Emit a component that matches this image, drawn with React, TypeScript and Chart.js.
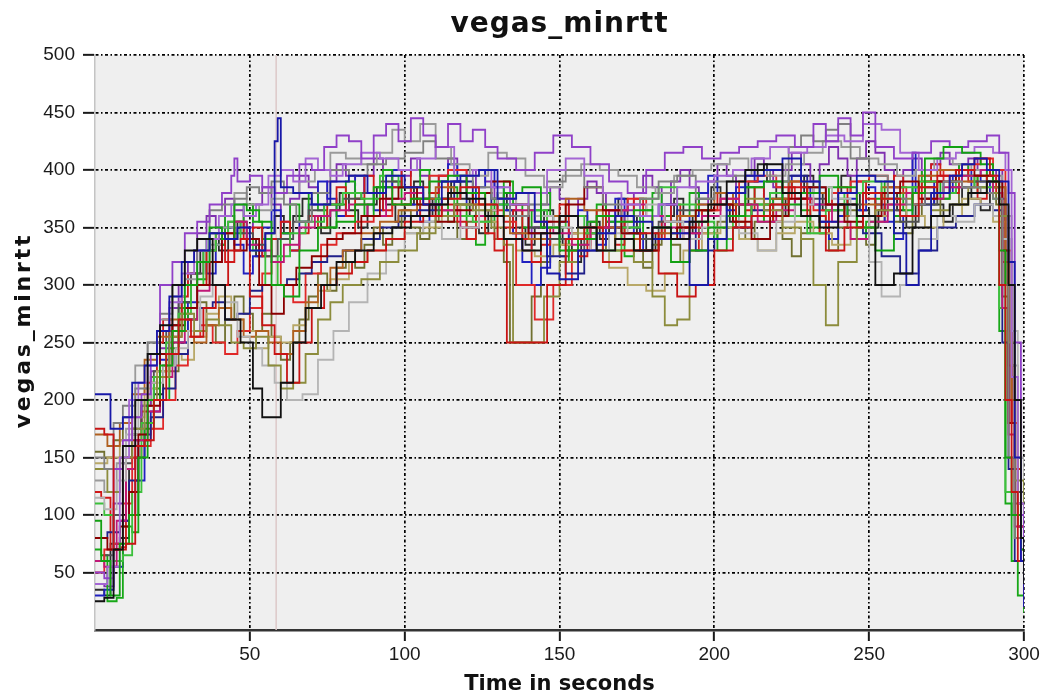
import { useEffect, useRef } from "react";
import { Chart, registerables } from "chart.js";

Chart.register(...registerables);

// Each run: [time in seconds, vegas_minrtt] sample-and-hold points.
const run01: [number, number][] = [[0,25],[3,28],[6,70],[9,160],[13,200],[17,240],[21,265],[25,300],[29,330],[33,340],[38,300],[42,270],[47,250],[51,210],[54,185],[60,215],[64,250],[68,280],[73,300],[78,320],[84,330],[90,345],[96,350],[102,360],[108,370],[114,380],[120,375],[126,360],[132,340],[138,330],[144,345],[150,360],[156,350],[162,330],[168,340],[174,330],[180,350],[186,340],[192,355],[198,370],[204,390],[210,400],[216,405],[222,380],[228,360],[234,350],[240,370],[246,360],[252,300],[258,310],[264,350],[270,360],[276,370],[282,380],[288,390],[292,370],[295,300],[297,200],[299,80],[300,40]];
const run02: [number, number][] = [[0,205],[5,175],[9,185],[12,215],[16,230],[20,260],[24,290],[28,320],[32,330],[37,345],[42,340],[46,350],[50,330],[55,345],[58,425],[59,445],[60,385],[64,380],[70,370],[76,390],[82,395],[88,380],[94,395],[100,385],[106,370],[112,390],[118,395],[124,400],[130,375],[136,380],[142,355],[146,310],[150,305],[156,330],[162,345],[168,360],[174,355],[180,340],[186,345],[192,300],[198,340],[204,380],[210,395],[216,400],[222,410],[228,390],[234,355],[240,380],[246,395],[252,390],[258,345],[262,300],[266,330],[270,380],[276,395],[280,405],[284,410],[288,400],[292,390],[295,320],[297,150],[299,60],[300,20]];
const run03: [number, number][] = [[0,175],[3,170],[6,70],[10,75],[13,160],[16,165],[19,200],[23,240],[27,270],[31,255],[35,280],[39,300],[43,330],[47,340],[50,290],[54,265],[58,240],[62,215],[66,250],[70,280],[74,300],[78,310],[83,320],[88,330],[94,340],[100,355],[106,360],[112,375],[118,385],[124,370],[130,340],[133,250],[140,250],[146,300],[152,340],[158,350],[164,320],[170,330],[176,345],[182,310],[188,290],[194,300],[200,330],[206,350],[212,360],[218,370],[224,385],[230,360],[236,330],[242,350],[248,380],[254,375],[260,360],[266,385],[272,395],[278,400],[284,410],[289,395],[292,300],[294,200],[296,120],[298,60],[300,30]];
const run04: [number, number][] = [[0,95],[2,60],[5,30],[8,75],[11,100],[14,150],[17,200],[21,230],[25,260],[29,300],[33,320],[37,350],[41,340],[45,370],[49,365],[53,355],[57,300],[61,290],[66,330],[72,350],[78,355],[84,370],[90,385],[96,370],[102,375],[108,390],[114,395],[120,380],[126,360],[132,380],[138,385],[144,350],[150,330],[156,340],[162,360],[168,355],[174,365],[180,350],[186,320],[192,330],[198,350],[204,360],[210,385],[216,390],[222,370],[228,380],[234,395],[240,385],[246,350],[252,330],[258,360],[264,380],[268,410],[274,420],[280,415],[286,405],[290,390],[292,330],[294,150],[296,100],[299,70],[300,40]];
const run05: [number, number][] = [[0,50],[3,45],[6,140],[9,165],[12,185],[15,205],[18,240],[21,300],[25,320],[29,345],[33,355],[37,370],[41,380],[44,395],[45,410],[46,390],[50,395],[54,385],[58,380],[62,395],[66,405],[70,400],[74,420],[78,430],[82,425],[86,410],[90,430],[94,440],[98,425],[102,445],[106,430],[110,420],[114,440],[118,425],[122,435],[126,420],[130,410],[136,400],[142,415],[148,430],[154,420],[160,405],[166,390],[172,380],[178,400],[184,415],[190,420],[196,410],[202,415],[208,420],[214,425],[220,430],[226,420],[232,440],[236,425],[240,445],[244,430],[248,450],[252,420],[258,410],[264,415],[270,425],[276,420],[282,425],[288,430],[292,415],[295,380],[297,250],[299,100],[300,20]];
const run06: [number, number][] = [[0,40],[4,55],[8,150],[11,200],[14,215],[17,230],[20,260],[24,285],[28,310],[32,330],[36,340],[40,360],[44,370],[48,360],[52,370],[56,395],[60,400],[64,390],[68,410],[72,400],[76,395],[80,405],[86,415],[92,410],[98,400],[104,410],[110,420],[116,395],[122,400],[128,385],[134,370],[140,380],[146,400],[152,410],[158,395],[164,380],[170,370],[176,360],[182,370],[188,385],[194,390],[200,395],[206,400],[212,410],[218,420],[224,415],[230,420],[236,430],[242,425],[248,440],[254,435],[260,415],[266,400],[272,410],[278,415],[284,420],[290,415],[294,400],[296,220],[298,110],[300,60]];
const run07: [number, number][] = [[0,150],[3,140],[6,180],[9,195],[13,210],[17,250],[21,275],[25,300],[29,320],[33,340],[37,365],[41,370],[45,375],[49,385],[53,380],[57,390],[61,370],[65,355],[70,380],[76,400],[82,395],[88,405],[94,410],[100,415],[106,425],[110,410],[116,395],[122,385],[128,375],[134,360],[140,370],[146,390],[152,400],[158,385],[164,370],[170,360],[176,375],[182,390],[188,395],[194,375],[200,390],[206,395],[212,400],[218,390],[224,420],[228,430],[232,425],[236,435],[240,440],[244,410],[250,395],[256,375],[262,370],[268,380],[274,390],[280,385],[286,380],[290,375],[293,300],[295,150],[297,80],[300,30]];
const run08: [number, number][] = [[0,140],[4,120],[8,150],[12,175],[16,200],[20,220],[24,255],[28,275],[32,260],[36,270],[40,265],[44,250],[48,245],[52,255],[56,230],[60,210],[64,215],[68,240],[72,270],[76,285],[80,300],[86,305],[92,320],[98,330],[104,345],[110,360],[116,370],[122,365],[128,350],[132,335],[135,250],[140,250],[145,290],[150,320],[156,350],[162,360],[168,330],[174,320],[180,290],[184,265],[188,270],[192,300],[198,340],[204,360],[210,375],[216,365],[222,350],[228,340],[232,300],[236,265],[240,320],[246,350],[252,365],[258,375],[264,380],[270,365],[276,370],[282,385],[288,380],[292,360],[295,250],[297,130],[300,50]];
const run09: [number, number][] = [[0,80],[4,70],[8,90],[11,120],[14,170],[17,195],[21,240],[25,265],[29,280],[33,300],[37,320],[41,345],[45,330],[49,340],[53,300],[57,275],[61,300],[65,315],[70,325],[75,340],[80,345],[86,360],[92,375],[98,385],[104,370],[110,355],[116,365],[122,380],[128,390],[134,370],[140,345],[146,355],[152,370],[158,385],[164,365],[170,345],[176,330],[182,340],[188,350],[194,365],[200,370],[206,355],[212,340],[218,360],[224,375],[230,385],[236,370],[242,355],[248,360],[254,380],[260,390],[266,375],[272,390],[278,400],[284,395],[290,390],[293,330],[295,180],[297,100],[300,60]];
const run10: [number, number][] = [[0,115],[3,105],[7,130],[10,170],[14,200],[18,215],[22,230],[26,245],[30,260],[34,290],[38,300],[42,285],[46,255],[50,245],[54,230],[58,215],[62,200],[67,205],[72,235],[77,260],[82,285],[88,310],[94,330],[100,345],[106,355],[112,340],[118,350],[124,365],[130,380],[136,370],[142,360],[148,350],[154,340],[160,330],[166,345],[172,360],[178,370],[184,355],[190,340],[196,350],[202,360],[208,345],[214,330],[220,355],[226,370],[232,385],[238,375],[244,360],[250,320],[254,290],[260,300],[266,340],[272,360],[278,355],[284,370],[290,360],[293,340],[296,260],[298,150],[300,90]];
const run11: [number, number][] = [[0,60],[3,55],[7,95],[10,140],[13,165],[17,190],[21,220],[25,250],[29,270],[33,295],[37,320],[41,345],[45,355],[49,335],[53,330],[57,320],[61,335],[66,350],[71,360],[76,365],[82,370],[88,360],[94,375],[100,380],[106,370],[112,365],[118,350],[124,360],[130,375],[136,365],[142,355],[148,345],[154,335],[160,350],[166,365],[172,370],[178,360],[184,350],[190,345],[196,360],[202,375],[208,370],[214,355],[220,365],[226,375],[232,370],[238,355],[244,340],[250,355],[256,370],[262,380],[268,375],[274,385],[280,395],[286,400],[290,380],[293,280],[295,170],[297,90],[300,45]];
const run12: [number, number][] = [[0,110],[3,100],[6,60],[9,65],[12,120],[15,180],[19,220],[23,250],[27,275],[31,300],[35,330],[39,345],[43,355],[47,340],[51,330],[55,300],[59,325],[63,345],[68,355],[74,370],[80,380],[86,375],[92,395],[98,385],[104,370],[110,375],[116,360],[122,355],[128,370],[134,380],[140,365],[146,350],[152,360],[158,345],[164,330],[170,350],[176,375],[182,385],[188,370],[194,355],[200,340],[206,360],[212,370],[218,380],[224,360],[230,345],[236,365],[242,380],[248,390],[254,375],[260,385],[266,390],[272,380],[278,395],[284,385],[290,375],[292,280],[294,120],[297,80],[300,40]];
const run13: [number, number][] = [[0,170],[4,160],[8,180],[12,205],[16,235],[20,255],[24,270],[28,260],[32,250],[36,265],[40,280],[44,270],[48,255],[52,260],[56,250],[60,240],[64,260],[68,285],[72,300],[76,315],[80,330],[86,345],[92,355],[98,365],[104,375],[110,385],[116,380],[122,370],[128,360],[134,345],[140,340],[146,360],[152,375],[158,365],[164,350],[170,340],[176,330],[182,345],[188,360],[194,370],[200,380],[206,370],[212,360],[218,375],[224,390],[230,380],[236,370],[242,360],[248,370],[254,385],[260,380],[266,395],[272,400],[278,390],[284,395],[290,385],[294,300],[296,200],[298,90],[300,50]];
const run14: [number, number][] = [[0,80],[4,85],[8,95],[11,130],[14,165],[18,185],[22,210],[26,240],[30,260],[34,280],[38,285],[42,270],[46,275],[50,295],[54,300],[58,300],[62,305],[66,310],[70,320],[75,325],[80,330],[86,340],[92,350],[98,360],[104,365],[110,375],[116,390],[122,380],[128,370],[134,360],[140,345],[146,325],[152,310],[158,330],[164,350],[170,345],[176,360],[182,370],[188,355],[194,330],[200,340],[206,350],[212,365],[218,380],[224,395],[230,385],[236,370],[242,360],[248,345],[254,325],[260,310],[266,330],[272,350],[278,360],[284,370],[290,365],[293,250],[295,140],[297,60],[300,30]];
const run15: [number, number][] = [[0,130],[3,120],[7,145],[10,175],[13,230],[17,250],[21,270],[25,290],[29,305],[33,320],[37,335],[41,350],[45,380],[49,370],[53,365],[57,375],[61,380],[66,390],[71,400],[76,415],[81,410],[86,405],[91,415],[96,435],[100,425],[105,440],[110,420],[115,405],[121,395],[127,415],[133,410],[139,395],[145,385],[151,395],[157,405],[163,400],[169,395],[175,385],[181,380],[187,395],[193,400],[199,405],[205,410],[211,400],[217,395],[223,405],[229,415],[235,425],[241,420],[247,410],[253,405],[259,395],[265,400],[271,410],[277,405],[283,400],[289,395],[293,360],[296,230],[298,100],[300,50]];
const run16: [number, number][] = [[0,50],[3,70],[6,75],[9,110],[12,150],[15,160],[18,175],[22,200],[26,230],[30,255],[34,265],[38,250],[42,240],[46,260],[50,280],[54,310],[57,320],[60,300],[64,285],[68,310],[73,335],[78,345],[84,355],[90,360],[96,370],[102,385],[108,395],[114,400],[120,380],[126,365],[132,355],[136,300],[142,270],[148,300],[154,330],[160,350],[166,365],[172,375],[178,360],[184,340],[190,350],[196,365],[202,375],[208,390],[214,395],[220,385],[226,375],[232,365],[238,380],[244,390],[250,395],[256,385],[262,380],[268,390],[274,400],[280,405],[286,410],[290,400],[294,330],[296,180],[298,100],[300,40]];
const run17: [number, number][] = [[0,145],[4,150],[8,165],[12,185],[16,210],[20,225],[24,240],[28,235],[32,255],[36,275],[40,290],[44,270],[48,260],[52,245],[56,255],[60,250],[64,265],[68,280],[72,295],[76,305],[82,320],[88,330],[94,340],[100,345],[106,350],[112,365],[118,370],[124,355],[130,340],[136,330],[142,325],[148,335],[154,345],[160,330],[166,315],[172,300],[178,295],[184,310],[190,330],[196,345],[202,350],[208,340],[214,330],[220,345],[226,355],[232,345],[238,335],[244,350],[250,360],[256,370],[262,360],[268,350],[274,360],[280,375],[286,370],[290,355],[294,300],[296,200],[298,110],[300,70]];
const run18: [number, number][] = [[0,60],[3,65],[6,100],[9,145],[12,175],[15,200],[19,225],[23,260],[27,285],[31,310],[35,330],[39,340],[43,355],[47,345],[51,335],[55,325],[59,340],[64,355],[69,365],[74,370],[80,375],[86,380],[92,390],[98,385],[104,375],[110,365],[116,370],[122,380],[128,375],[134,360],[140,350],[146,340],[152,330],[158,345],[164,360],[170,350],[176,340],[182,355],[188,365],[194,375],[200,380],[206,370],[212,360],[218,370],[224,380],[230,375],[236,365],[242,370],[248,380],[254,365],[260,355],[266,370],[272,380],[278,385],[284,390],[290,385],[294,340],[296,220],[298,120],[300,60]];
const run19: [number, number][] = [[0,120],[2,115],[5,70],[8,72],[10,150],[12,165],[15,190],[17,215],[20,250],[22,270],[25,255],[28,290],[30,310],[33,300],[36,330],[39,345],[42,320],[45,355],[48,340],[51,350],[54,325],[57,340],[60,355],[63,330],[66,345],[69,360],[72,350],[75,370],[78,385],[81,360],[84,375],[87,395],[90,380],[93,365],[96,385],[99,400],[102,375],[105,360],[108,380],[111,395],[114,370],[117,355],[120,340],[123,360],[126,345],[129,330],[132,350],[135,365],[138,340],[141,320],[144,335],[147,350],[150,370],[153,345],[156,325],[159,345],[162,365],[165,350],[168,335],[171,355],[174,375],[177,360],[180,340],[183,355],[186,370],[189,350],[192,330],[195,345],[198,365],[201,380],[204,370],[207,350],[210,365],[213,385],[216,370],[219,355],[222,375],[225,390],[228,375],[231,360],[234,345],[237,365],[240,385],[243,370],[246,390],[249,375],[252,360],[255,380],[258,395],[261,380],[264,370],[267,390],[270,405],[273,395],[276,380],[279,400],[282,390],[285,375],[288,395],[291,380],[293,320],[295,230],[297,140],[299,70],[300,30]];
const run20: [number, number][] = [[0,70],[2,65],[4,25],[7,28],[9,90],[12,85],[14,160],[16,175],[19,210],[21,200],[24,245],[27,280],[30,270],[33,305],[36,340],[39,335],[42,360],[45,345],[48,370],[51,355],[54,340],[57,320],[60,345],[63,370],[66,355],[69,380],[72,365],[75,350],[78,370],[81,390],[84,375],[87,360],[90,380],[93,400],[96,390],[99,370],[102,385],[105,400],[108,380],[111,360],[114,385],[117,370],[120,350],[123,335],[126,355],[129,375],[132,390],[135,370],[138,350],[141,365],[144,380],[147,360],[150,340],[153,320],[156,335],[159,355],[162,370],[165,355],[168,340],[171,325],[174,345],[177,365],[180,380],[183,360],[186,345],[189,360],[192,380],[195,365],[198,345],[201,330],[204,350],[207,370],[210,385],[213,370],[216,355],[219,375],[222,390],[225,380],[228,365],[231,350],[234,370],[237,385],[240,375],[243,360],[246,340],[249,355],[252,375],[255,390],[258,380],[261,365],[264,385],[267,400],[270,390],[273,375],[276,390],[279,405],[282,395],[285,385],[288,400],[290,385],[292,260],[294,110],[296,60],[298,30],[300,15]];
const run21: [number, number][] = [[0,30],[3,35],[6,55],[9,95],[11,100],[13,130],[16,170],[18,190],[21,235],[24,260],[27,250],[30,285],[33,320],[36,310],[39,335],[42,350],[45,335],[48,310],[51,325],[54,350],[57,365],[60,345],[63,330],[66,355],[69,370],[72,390],[75,375],[78,360],[81,380],[84,395],[87,380],[90,365],[93,385],[96,400],[99,385],[102,370],[105,355],[108,375],[111,390],[114,405],[117,390],[120,370],[123,385],[126,400],[129,385],[132,365],[135,345],[138,320],[141,300],[144,315],[147,340],[150,355],[153,340],[156,365],[159,350],[162,335],[165,355],[168,375],[171,360],[174,345],[177,330],[180,350],[183,370],[186,355],[189,340],[192,360],[195,380],[198,395],[201,380],[204,365],[207,385],[210,400],[213,390],[216,375],[219,360],[222,380],[225,395],[228,385],[231,370],[234,355],[237,340],[240,360],[243,375],[246,365],[249,385],[252,370],[255,355],[258,340],[261,360],[264,415],[265,380],[268,370],[271,390],[274,380],[277,395],[280,385],[283,400],[286,390],[289,380],[292,375],[294,300],[296,200],[298,110],[300,30]];
const run22: [number, number][] = [[0,40],[3,38],[6,110],[9,150],[12,175],[15,195],[18,225],[21,245],[24,280],[27,300],[30,320],[33,345],[36,360],[39,350],[42,375],[45,365],[48,350],[51,370],[54,385],[57,370],[60,355],[63,375],[66,395],[69,385],[72,370],[75,390],[78,405],[81,395],[84,380],[87,395],[90,410],[93,400],[96,385],[99,395],[102,410],[105,395],[108,380],[111,395],[114,410],[117,400],[120,385],[123,400],[126,390],[129,375],[132,360],[135,345],[138,330],[141,350],[144,370],[147,385],[150,375],[153,360],[156,375],[159,390],[162,380],[165,365],[168,350],[171,365],[174,380],[177,395],[180,385],[183,370],[186,390],[189,400],[192,385],[195,370],[198,390],[201,405],[204,395],[207,380],[210,395],[213,410],[216,400],[219,385],[222,400],[225,415],[228,405],[231,390],[234,405],[237,420],[240,410],[243,395],[246,410],[249,425],[252,415],[255,400],[258,385],[261,400],[264,410],[267,395],[270,405],[273,415],[276,405],[279,395],[282,410],[285,400],[288,390],[291,400],[293,360],[295,260],[297,140],[299,60],[300,20]];
const run23: [number, number][] = [[0,155],[3,150],[6,165],[9,185],[12,170],[15,195],[18,220],[21,240],[24,225],[27,250],[30,270],[33,285],[36,265],[39,250],[42,270],[45,290],[48,275],[51,260],[54,275],[57,255],[60,235],[63,250],[66,270],[69,290],[72,310],[75,295],[78,315],[81,330],[84,315],[87,335],[90,350],[93,335],[96,350],[99,365],[102,350],[105,340],[108,355],[111,370],[114,355],[117,340],[120,355],[123,370],[126,355],[129,340],[132,320],[134,250],[138,250],[141,290],[144,320],[147,340],[150,325],[153,345],[156,360],[159,345],[162,330],[165,345],[168,360],[171,345],[174,330],[177,315],[180,335],[183,350],[186,335],[189,320],[192,340],[195,355],[198,340],[201,355],[204,370],[207,355],[210,340],[213,355],[216,370],[219,355],[222,340],[225,325],[228,345],[231,360],[234,345],[237,330],[240,350],[243,365],[246,350],[249,335],[252,355],[255,370],[258,355],[261,345],[264,360],[267,375],[270,360],[273,375],[276,385],[279,370],[282,380],[285,395],[288,380],[291,370],[293,290],[295,200],[297,110],[300,50]];
const run24: [number, number][] = [[0,35],[3,30],[5,75],[8,80],[11,140],[13,150],[16,180],[19,205],[22,230],[25,265],[28,285],[31,310],[34,330],[37,345],[40,330],[43,340],[46,355],[49,340],[52,325],[55,345],[58,360],[61,345],[64,360],[67,375],[70,360],[73,345],[76,365],[79,380],[82,365],[85,350],[88,370],[91,385],[94,370],[97,355],[100,370],[103,390],[106,375],[109,360],[112,375],[115,390],[118,375],[121,360],[124,345],[127,365],[130,380],[133,365],[136,350],[139,335],[142,350],[145,365],[148,350],[151,335],[154,320],[157,340],[160,355],[163,340],[166,360],[169,375],[172,360],[175,345],[178,330],[181,345],[184,360],[187,375],[190,360],[193,345],[196,365],[199,385],[202,370],[205,355],[208,370],[211,390],[214,405],[217,390],[220,375],[223,360],[226,380],[229,395],[232,380],[235,365],[238,380],[241,395],[244,380],[247,365],[250,350],[253,365],[256,380],[259,365],[262,350],[265,370],[268,385],[271,370],[274,355],[277,370],[280,385],[283,375],[286,365],[289,380],[292,370],[294,300],[296,180],[298,90],[300,40]];

const runs = [run01, run02, run03, run04, run05, run06, run07, run08, run09, run10, run11, run12, run13, run14, run15, run16, run17, run18, run19, run20, run21, run22, run23, run24];
const runColors = ["#111111", "#1818a8", "#c81414", "#12a012", "#9040c8", "#a466d4", "#808080", "#8c8c3c", "#8a0000", "#b4b4b4", "#c01878", "#3cc03c", "#b06020", "#20208a", "#9a9a9a", "#e02828", "#b8a868", "#505050", "#d01818", "#18a818", "#2020c0", "#8030b0", "#707030", "#2a2a2a"];

// Vertical reference marker (seconds)
const markerTime = 58.5;

const xTicks = [50, 100, 150, 200, 250, 300];
const yTicks = [50, 100, 150, 200, 250, 300, 350, 400, 450, 500];

const titleText = "vegas_minrtt";
const yTitleText = "vegas_minrtt";
const xTitleText = "Time in seconds";

export default function App() {
  const canvasRef = useRef<HTMLCanvasElement>(null);

  useEffect(() => {
    const canvas = canvasRef.current;
    if (!canvas) return;

    const plotBackground = {
      id: "plotBackground",
      beforeDraw(chart: any) {
        const { ctx, chartArea } = chart;
        ctx.save();
        ctx.fillStyle = "#efefef";
        ctx.fillRect(chartArea.left, chartArea.top, chartArea.right - chartArea.left, chartArea.bottom - chartArea.top);
        ctx.restore();
      },
    };

    const titles = {
      id: "titles",
      afterDraw(chart: any) {
        const { ctx, chartArea } = chart;
        const cx = (chartArea.left + chartArea.right) / 2;
        const cy = (chartArea.top + chartArea.bottom) / 2;
        ctx.save();
        ctx.fillStyle = "#111";
        ctx.textAlign = "center";
        ctx.textBaseline = "alphabetic";
        ctx.font = "bold 28px 'DejaVu Sans'";
        (ctx as any).letterSpacing = "1px";
        ctx.fillText(titleText, cx, 32);
        ctx.font = "bold 21px 'DejaVu Sans'";
        (ctx as any).letterSpacing = "0px";
        ctx.fillText(xTitleText, cx, 690);
        ctx.translate(30, cy - 12);
        ctx.rotate(-Math.PI / 2);
        ctx.font = "bold 22px 'DejaVu Sans'";
        (ctx as any).letterSpacing = "2.8px";
        ctx.fillText(yTitleText, 0, 0);
        ctx.restore();
      },
    };

    const datasets: any[] = runs.map((run, i) => ({
      data: run.map(([t, v]) => ({ x: t, y: v })),
      borderColor: runColors[i],
      borderWidth: 1.8,
      pointRadius: 0,
      stepped: true,
      fill: false,
      order: 1,
    }));
    datasets.push({
      data: [{ x: markerTime, y: 0 }, { x: markerTime, y: 500 }],
      borderColor: "#dcc8c8",
      borderWidth: 1.5,
      pointRadius: 0,
      fill: false,
      order: 100,
    });

    const gridStyle = {
      color: "#000000",
      lineWidth: 1.7,
      tickColor: "#1a1a1a",
      tickWidth: 2,
      tickBorderDash: [],
    };

    const chart = new Chart(canvas, {
      type: "line",
      data: { datasets },
      plugins: [plotBackground, titles],
      options: {
        animation: false,
        responsive: false,
        events: [],
        layout: { padding: { left: 0, right: 21, top: 55, bottom: 0 } },
        plugins: { legend: { display: false }, tooltip: { enabled: false }, title: { display: false } },
        scales: {
          x: {
            type: "linear",
            min: 0,
            max: 300,
            afterBuildTicks: (scale: any) => {
              scale.ticks = xTicks.map((value) => ({ value }));
            },
            afterFit: (scale: any) => {
              scale.height = 68;
            },
            grid: { ...gridStyle, tickLength: 11 },
            border: { display: true, color: "#333", width: 2.5, dash: [3, 2.5, 1.5, 2.5] },
            ticks: { color: "#1a1a1a", padding: 2, font: { family: "'Liberation Sans'", size: 19 }, maxRotation: 0 },
          },
          y: {
            type: "linear",
            min: 0,
            max: 500,
            afterBuildTicks: (scale: any) => {
              scale.ticks = yTicks.map((value) => ({ value }));
            },
            afterFit: (scale: any) => {
              scale.width = 95;
            },
            grid: { ...gridStyle, tickLength: 12 },
            border: { display: true, color: "#c4c4c4", width: 1.5, dash: [3, 2.5, 1.5, 2.5] },
            ticks: { color: "#1a1a1a", padding: 8, font: { family: "'Liberation Sans'", size: 19 } },
          },
        },
      },
    });

    return () => chart.destroy();
  }, []);

  return (
    <div style={{ position: "absolute", left: 0, top: 0, width: 1045, height: 698, background: "#fff" }}>
      <canvas ref={canvasRef} width={1045} height={698} style={{ display: "block" }} />
    </div>
  );
}
